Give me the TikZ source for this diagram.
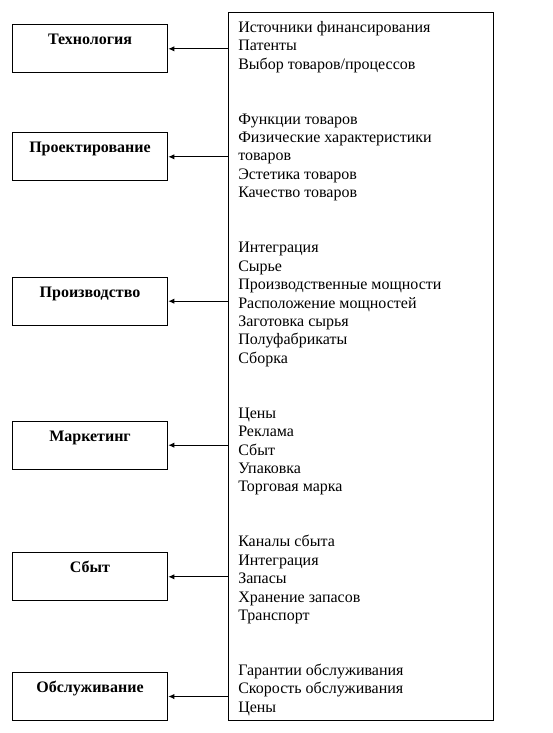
\documentclass[tikz,border=0pt]{standalone}
\usepackage{fontspec}
\setmainfont{Liberation Serif}
\usetikzlibrary{arrows.meta}
\begin{document}
\begin{tikzpicture}[x=0.75pt,y=-0.75pt,
  leftbox/.style={draw,line width=0.75pt,minimum width=116.25pt,minimum height=36pt,inner sep=0pt,anchor=north west},
  boxlabel/.style={font=\bfseries\fontsize{12pt}{14pt}\selectfont,anchor=base,inner sep=0pt},
  itemline/.style={font=\fontsize{12pt}{14pt}\selectfont,anchor=base west,inner sep=0pt},
  arr/.style={line width=0.75pt,-{Latex[length=4.5pt,width=4pt]}}]
\useasboundingbox (0,0) rectangle (553,733);
% big right box
\node[draw,line width=0.75pt,minimum width=198.75pt,minimum height=531pt,inner sep=0pt,anchor=north west] (big) at (228.3,12.3) {};
% left boxes
\node[leftbox] (b1) at (12.3,24.3) {};
\node[leftbox] (b2) at (12.3,132.3) {};
\node[leftbox] (b3) at (12.3,276.7) {};
\node[leftbox] (b4) at (12.3,420.7) {};
\node[leftbox] (b5) at (12.3,552.3) {};
\node[leftbox] (b6) at (12.3,672.0) {};
% labels
\node[boxlabel] (t1) at (90,44.8) {Технология};
\node[boxlabel] (t2) at (90,152.8) {Проектирование};
\node[boxlabel] (t3) at (90,297.2) {Производство};
\node[boxlabel] (t4) at (90,441.2) {Маркетинг};
\node[boxlabel] (t5) at (90,572.8) {Сбыт};
\node[boxlabel] (t6) at (90,692.5) {Обслуживание};
% arrows
\foreach \b in {b1,b2,b3,b4,b5,b6}
  \draw[arr] (big.west |- \b.east) -- (\b.east);
% right text lines
\def\ls{18.38}
\foreach \t [count=\i from 0] in {Источники финансирования,Патенты,Выбор товаров/процессов}
  \node[itemline] (ga\i) at (238,32.3+\ls*\i) {\t};
\foreach \t [count=\i from 0] in {Функции товаров,Физические характеристики,товаров,Эстетика товаров,Качество товаров}
  \node[itemline] (gb\i) at (238,32.3+\ls*5+\ls*\i) {\t};
\foreach \t [count=\i from 0] in {Интеграция,Сырье,Производственные мощности,Расположение мощностей,Заготовка сырья,Полуфабрикаты,Сборка}
  \node[itemline] (gc\i) at (238,32.3+\ls*12+\ls*\i) {\t};
\foreach \t [count=\i from 0] in {Цены,Реклама,Сбыт,Упаковка,Торговая марка}
  \node[itemline] (gd\i) at (238,32.3+\ls*21+\ls*\i) {\t};
\foreach \t [count=\i from 0] in {Каналы сбыта,Интеграция,Запасы,Хранение запасов,Транспорт}
  \node[itemline] (ge\i) at (238,32.3+\ls*28+\ls*\i) {\t};
\foreach \t [count=\i from 0] in {Гарантии обслуживания,Скорость обслуживания,Цены}
  \node[itemline] (gf\i) at (238,32.3+\ls*35+\ls*\i) {\t};
\end{tikzpicture}
\end{document}
